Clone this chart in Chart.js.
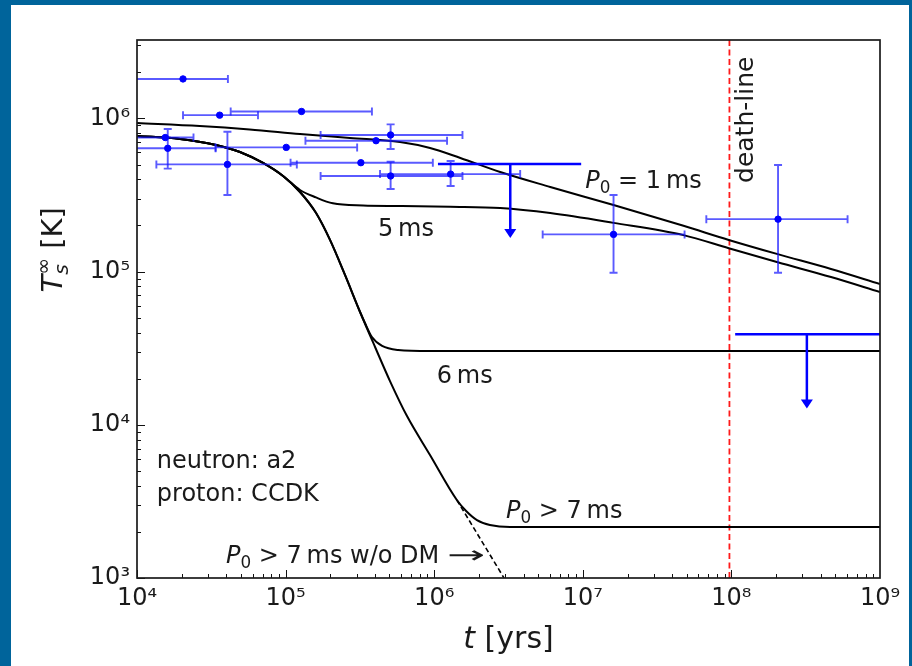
<!DOCTYPE html>
<html>
<head>
<meta charset="utf-8">
<script src="https://cdn.jsdelivr.net/npm/chart.js@4.4.1/dist/chart.umd.min.js"></script>
<style>
  html, body { margin: 0; padding: 0; }
  body { width: 912px; height: 666px; background: #00649b; position: relative; overflow: hidden; }
  #panel { position: absolute; left: 11px; top: 5px; width: 898px; height: 661px; background: #fff; }
  #wrap { position: absolute; left: 0; top: 0; width: 912px; height: 666px; }
</style>
</head>
<body>
<div id="panel"></div>
<div id="wrap"><canvas id="chart"></canvas></div>
<script>
// axis limits
const tMin = 1e4, tMax = 1e9;
const TMin = 1e3, TMax = 3.25e6;
const deathLineAge = 9.7e7;

// cooling curves, [age in yrs, T in K]
const curve1ms = [
  [1e4, 9.33e5], [2.64e4, 8.92e5], [5.73e4, 8.47e5], [1.25e5, 7.91e5], [2.71e5, 7.45e5],
  [5.89e5, 7.01e5], [9.38e5, 6.41e5], [1.50e6, 5.52e5], [2.78e6, 4.47e5], [6.04e6, 3.57e5],
  [1.61e7, 2.72e5], [4.76e7, 1.99e5], [9.6e7, 1.61e5], [2.05e8, 1.30e5], [4.68e8, 1.04e5], [1e9, 8.3e4],
];
const coolingEarly = [
  [1e4, 7.69e5], [1.95e4, 7.35e5], [3.40e4, 6.71e5], [4.93e4, 6.04e5], [7.05e4, 5.12e5], [9.61e4, 4.21e5],
];
const branch5ms = [
  [1.25e5, 3.41e5], [1.60e5, 3.05e5], [2.08e5, 2.79e5], [3.32e5, 2.70e5], [5.89e5, 2.68e5],
  [1.28e6, 2.65e5], [2.78e6, 2.60e5], [6.04e6, 2.41e5], [1.61e7, 2.08e5], [4.76e7, 1.73e5],
  [9.6e7, 1.42e5], [2.05e8, 1.15e5], [4.68e8, 9.22e4], [1e9, 7.36e4],
];
const steepDrop = [
  [1.25e5, 3.31e5], [1.60e5, 2.42e5], [1.99e5, 1.61e5], [2.51e5, 9.51e4], [3.17e5, 5.45e4],
];
const branch6ms = [
  [3.42e5, 4.62e4], [3.81e5, 3.74e4], [4.46e5, 3.27e4], [5.71e5, 3.08e4], [9.37e5, 3.03e4], [1e9, 3.03e4],
];
const branch7ms = [
  [4.00e5, 3.22e4], [5.04e5, 1.93e4], [6.56e5, 1.14e4], [9.37e5, 6.35e3], [1.42e6, 3.23e3],
  [1.64e6, 2.74e3], [1.94e6, 2.39e3], [2.37e6, 2.22e3], [3.24e6, 2.15e3], [1e9, 2.15e3],
];
const noDM = [[1.42e6, 3.23e3], [2.95e6, 1e3]];

// observed pulsars: age, temperature, age range, temperature range (null = none)
const obsAge   = [2.04e4, 3.6e4, 1.28e5, 1.55e4, 1.61e4, 1.01e5, 4.06e4, 3.21e5, 4.06e5, 5.09e5, 5.09e5, 1.29e6, 1.61e7, 2.06e8];
const obsTemp  = [1.81e6, 1.05e6, 1.11e6, 7.5e5, 6.38e5, 6.47e5, 5.01e5, 5.14e5, 7.15e5, 7.8e5, 4.21e5, 4.33e5, 1.75e5, 2.2e5];
const obsAgeLo = [9.5e3, 2.04e4, 4.27e4, 9.5e3, 9.5e3, 3.38e4, 1.35e4, 1.08e5, 1.36e5, 1.72e5, 1.72e5, 4.32e5, 5.37e6, 6.78e7];
const obsAgeHi = [4.09e4, 6.52e4, 3.81e5, 2.4e4, 3.38e4, 3.03e5, 1.19e5, 9.79e5, 1.22e6, 1.55e6, 1.55e6, 3.79e6, 4.84e7, 6.05e8];
const obsTLo   = [null, null, null, null, 4.70e5, null, 3.16e5, null, null, 6.31e5, 3.46e5, 3.62e5, 9.84e4, 9.84e4];
const obsTHi   = [null, null, null, null, 8.53e5, null, 8.19e5, null, null, 9.14e5, 5.21e5, 5.27e5, 3.16e5, 4.97e5];

// upper limits
const ulAge   = [3.25e6, 3.22e8];
const ulTemp  = [5.04e5, 3.9e4];
const ulAgeLo = [1.06e6, 1.06e8];
const ulAgeHi = [9.75e6, 1.1e9];
const ulArrowTo = [1.66e5, 1.28e4];

const sup = { '0': '⁰', '1': '¹', '2': '²', '3': '³', '4': '⁴', '5': '⁵', '6': '⁶', '7': '⁷', '8': '⁸', '9': '⁹' };
function powLabel(v) {
  const l = Math.log10(v);
  if (Math.abs(l - Math.round(l)) > 1e-9) return '';
  return '10' + String(Math.round(l)).split('').map((c) => sup[c]).join('');
}

const FONT = '"DejaVu Sans"';
const pts = (arr) => arr.map(([x, y]) => ({ x, y }));

const notes = [
  { t: 1.04e7, T: 3.52e5, runs: [{ s: 'P', it: 1 }, { s: '0', sub: 1 }, { s: ' = 1\u2009ms' }] },
  { t: 4.19e5, T: 1.71e5, runs: [{ s: '5\u2009ms' }] },
  { t: 1.04e6, T: 1.87e4, runs: [{ s: '6\u2009ms' }] },
  { t: 3.04e6, T: 2.46e3, runs: [{ s: 'P', it: 1 }, { s: '0', sub: 1 }, { s: ' > 7\u2009ms' }] },
  { t: 3.97e4, T: 1.25e3, runs: [{ s: 'P', it: 1 }, { s: '0', sub: 1 }, { s: ' > 7\u2009ms w/o DM ' }, { s: '→', sx: 1.9 }] },
  { t: 1.36e4, T: 5.22e3, runs: [{ s: 'neutron: a2' }] },
  { t: 1.36e4, T: 3.18e3, runs: [{ s: 'proton: CCDK' }] },
];

function runsWidth(ctx, runs, size) {
  let w = 0;
  for (const r of runs) {
    const fs = r.sub || r.sup ? size * 0.7 : size;
    ctx.font = (r.it ? 'italic ' : '') + fs + 'px ' + FONT;
    const rw = ctx.measureText(r.s).width * (r.sx || 1);
    if (!r.stack) w += rw;
  }
  return w;
}
function drawRuns(ctx, runs, x, y, size) {
  let cx = x, lastW = 0;
  for (const r of runs) {
    const fs = r.sub || r.sup ? size * 0.7 : size;
    ctx.font = (r.it ? 'italic ' : '') + fs + 'px ' + FONT;
    const dy = r.sub ? size * 0.22 : r.sup ? -size * 0.42 : 0;
    const rx = r.stack ? cx - lastW : cx;
    const sx = r.sx || 1;
    ctx.save();
    ctx.translate(rx, y + dy);
    ctx.scale(sx, 1);
    ctx.fillText(r.s, 0, 0);
    ctx.restore();
    const w = ctx.measureText(r.s).width * sx;
    if (r.stack) { cx = Math.max(cx, rx + w); } else { cx += w; lastW = w; }
  }
}

const extras = {
  id: 'extras',
  beforeDatasetDraw(chart, args) {
    if (args.index !== 0) return;
    const { ctx, chartArea: a, scales: { x, y } } = chart;
    ctx.save();
    ctx.beginPath();
    ctx.rect(a.left, a.top, a.right - a.left, a.bottom - a.top);
    ctx.clip();
    // error bars
    ctx.strokeStyle = 'rgba(20,20,255,0.7)';
    ctx.lineWidth = 1.9;
    const cap = 4;
    obsAge.forEach((t, i) => {
      const px = x.getPixelForValue(t), py = y.getPixelForValue(obsTemp[i]);
      const x0 = x.getPixelForValue(obsAgeLo[i]), x1 = x.getPixelForValue(obsAgeHi[i]);
      ctx.beginPath();
      ctx.moveTo(x0, py); ctx.lineTo(x1, py);
      ctx.moveTo(x0, py - cap); ctx.lineTo(x0, py + cap);
      ctx.moveTo(x1, py - cap); ctx.lineTo(x1, py + cap);
      if (obsTLo[i] !== null) {
        const y0 = y.getPixelForValue(obsTLo[i]), y1 = y.getPixelForValue(obsTHi[i]);
        ctx.moveTo(px, y0); ctx.lineTo(px, y1);
        ctx.moveTo(px - cap, y0); ctx.lineTo(px + cap, y0);
        ctx.moveTo(px - cap, y1); ctx.lineTo(px + cap, y1);
      }
      ctx.stroke();
    });
    // upper limits
    ctx.strokeStyle = '#0000ff';
    ctx.fillStyle = '#0000ff';
    ctx.lineWidth = 2.5;
    ulAge.forEach((t, i) => {
      const px = x.getPixelForValue(t), py = y.getPixelForValue(ulTemp[i]);
      const pe = y.getPixelForValue(ulArrowTo[i]);
      ctx.beginPath();
      ctx.moveTo(x.getPixelForValue(ulAgeLo[i]), py);
      ctx.lineTo(x.getPixelForValue(ulAgeHi[i]), py);
      ctx.moveTo(px, py); ctx.lineTo(px, pe - 8);
      ctx.stroke();
      ctx.beginPath();
      ctx.moveTo(px - 6, pe - 9); ctx.lineTo(px + 6, pe - 9); ctx.lineTo(px, pe); ctx.closePath();
      ctx.fill();
    });
    ctx.restore();
  },
  afterDraw(chart) {
    const { ctx, chartArea: a, scales: { x, y } } = chart;
    ctx.save();
    // inward ticks
    ctx.strokeStyle = '#111';
    ctx.lineWidth = 1;
    ctx.beginPath();
    for (let d = 4; d < 9; d++) {
      for (let m = 1; m <= 9; m++) {
        const px = Math.round(x.getPixelForValue(m * Math.pow(10, d))) + 0.5;
        const len = m === 1 ? 8 : 4;
        ctx.moveTo(px, a.bottom); ctx.lineTo(px, a.bottom - len);
      }
    }
    for (let d = 3; d <= 6; d++) {
      for (let m = 1; m <= 9; m++) {
        const v = m * Math.pow(10, d);
        if (v > TMax) break;
        const py = Math.round(y.getPixelForValue(v)) + 0.5;
        const len = m === 1 ? 8 : 4;
        ctx.moveTo(a.left, py); ctx.lineTo(a.left + len, py);
      }
    }
    ctx.stroke();
    // frame
    ctx.strokeStyle = '#1a1a1a';
    ctx.lineWidth = 1.7;
    ctx.strokeRect(a.left, a.top, a.right - a.left, a.bottom - a.top);

    // notes
    ctx.fillStyle = '#1a1a1a';
    ctx.textBaseline = 'alphabetic';
    ctx.textAlign = 'left';
    notes.forEach((n) => drawRuns(ctx, n.runs, x.getPixelForValue(n.t), y.getPixelForValue(n.T), 24));

    // death-line label
    ctx.save();
    ctx.translate(x.getPixelForValue(1.4e8), y.getPixelForValue(3.79e5));
    ctx.rotate(-Math.PI / 2);
    ctx.font = '25px ' + FONT;
    ctx.fillText('death-line', 0, 0);
    ctx.restore();

    // axis titles
    const xr = [{ s: 't', it: 1 }, { s: ' [yrs]' }];
    const xw = runsWidth(ctx, xr, 30);
    drawRuns(ctx, xr, (a.left + a.right) / 2 - xw / 2, 648, 30);

    const yr = [{ s: 'T', it: 1 }, { s: 's', it: 1, sub: 1 }, { s: '∞', sup: 1, stack: 1 }, { s: ' [K]' }];
    const yw = runsWidth(ctx, yr, 29);
    ctx.save();
    ctx.translate(62, 253);
    ctx.rotate(-Math.PI / 2);
    drawRuns(ctx, yr, -yw / 2, 0, 29);
    ctx.restore();
    ctx.restore();
  },
};

const curveStyle = { showLine: true, borderColor: '#000', borderWidth: 2, pointRadius: 0, cubicInterpolationMode: 'monotone' };

new Chart(document.getElementById('chart'), {
  type: 'scatter',
  data: {
    datasets: [
      { label: 'observed', data: obsAge.map((t, i) => ({ x: t, y: obsTemp[i] })), backgroundColor: '#0000ff', borderColor: '#0000ff', pointRadius: 3.2, pointHoverRadius: 3.2 },
      { label: '1 ms', data: pts(curve1ms), ...curveStyle },
      { label: '5 ms', data: pts(coolingEarly.concat(branch5ms)), ...curveStyle },
      { label: '6 ms', data: pts(coolingEarly.concat(steepDrop, branch6ms)), ...curveStyle },
      { label: '>7 ms', data: pts(coolingEarly.concat(steepDrop, branch7ms)), ...curveStyle },
      { label: 'w/o DM', data: pts(noDM), showLine: true, borderColor: '#000', borderWidth: 1.6, borderDash: [5, 3], pointRadius: 0 },
      { label: 'death-line', data: [{ x: deathLineAge, y: TMin }, { x: deathLineAge, y: TMax }], showLine: true, borderColor: '#ff1a1a', borderWidth: 1.8, borderDash: [6, 3.5], pointRadius: 0 },
    ],
  },
  options: {
    responsive: true,
    maintainAspectRatio: false,
    animation: false,
    layout: { padding: { top: 40, right: 32, left: 0, bottom: 0 } },
    plugins: { legend: { display: false }, tooltip: { enabled: false } },
    scales: {
      x: {
        type: 'logarithmic', min: tMin, max: tMax,
        grid: { display: false, drawTicks: false }, border: { display: false },
        ticks: { autoSkip: false, maxRotation: 0, padding: 6, color: '#1a1a1a', font: { family: 'DejaVu Sans', size: 24 }, callback: powLabel },
        afterFit(s) { s.height = 88; },
      },
      y: {
        type: 'logarithmic', min: TMin, max: TMax,
        grid: { display: false, drawTicks: false }, border: { display: false },
        ticks: { autoSkip: false, padding: 7, color: '#1a1a1a', font: { family: 'DejaVu Sans', size: 24 }, callback: powLabel },
        afterFit(s) { s.width = 137; },
      },
    },
  },
  plugins: [extras],
});
</script>
</body>
</html>
